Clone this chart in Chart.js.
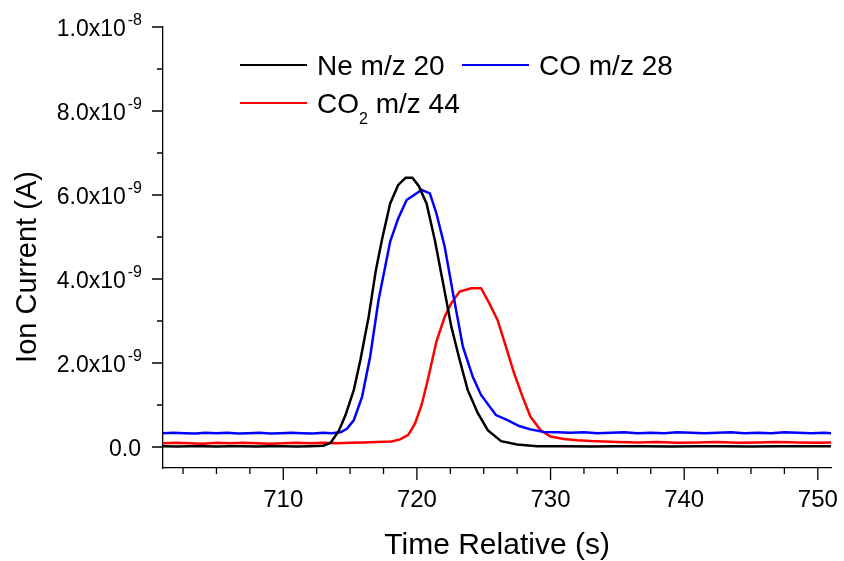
<!DOCTYPE html>
<html>
<head>
<meta charset="utf-8">
<script src="https://cdn.jsdelivr.net/npm/chart.js@4.4.0/dist/chart.umd.min.js"></script>
<style>
    html, body { margin: 0; padding: 0; background: #fff; }
    #wrap { width: 844px; height: 561px; }
</style>
</head>
<body>
<div id="wrap"><canvas id="chart" width="844" height="561"></canvas></div>
<script>
// --- DATA (ion current in units of 1e-9 A, time in s) ---
const neTime = [701, 702, 703, 704, 705, 706, 707, 708, 709, 710, 711, 712, 713,
    713.55, 714.16, 714.66, 715.28, 715.77, 716.39, 716.93, 717.38, 718.0, 718.6, 719.16, 719.66,
    720.15, 720.72, 721.34, 721.96, 722.58, 723.2, 723.8, 724.55, 725.3, 726.3, 727.5, 729,
    731, 733, 735, 737, 739, 741, 743, 745, 747, 749, 751];
const neCurrent = [0.02, 0.01, 0.02, 0.02, 0.01, 0.02, 0.02, 0.01, 0.02, 0.02, 0.01, 0.02, 0.03,
    0.10, 0.39, 0.76, 1.36, 2.07, 3.10, 4.21, 4.93, 5.80, 6.24, 6.41, 6.41,
    6.21, 5.80, 4.93, 3.90, 2.86, 2.07, 1.36, 0.81, 0.40, 0.14, 0.06, 0.02,
    0.02, 0.01, 0.02, 0.02, 0.01, 0.02, 0.02, 0.01, 0.02, 0.02, 0.02];

const coTime = [701, 701.8, 702.6, 703.4, 704.2, 705, 705.8, 706.6, 707.4, 708.2, 709, 709.8, 710.6, 711.4, 712.2, 713,
    713.6, 714.3, 714.78, 715.28, 715.9, 716.5, 717.13, 718.0, 718.6, 719.23, 720.35, 720.97, 721.46, 722.08,
    722.7, 723.44, 724.18, 724.8, 725.91, 726.78, 727.65, 728.5, 729.5,
    730.5, 731.5, 732.5, 733.5, 734.5, 735.5, 736.5, 737.5, 738.5, 739.5, 740.5, 741.5, 742.5, 743.5,
    744.5, 745.5, 746.5, 747.5, 748.5, 749.5, 750.5, 751];
const coCurrent = [0.33, 0.34, 0.33, 0.32, 0.34, 0.33, 0.34, 0.32, 0.33, 0.34, 0.32, 0.33, 0.34, 0.33, 0.32, 0.34,
    0.33, 0.35, 0.44, 0.64, 1.20, 2.15, 3.50, 4.89, 5.44, 5.88, 6.12, 6.04, 5.56, 4.77,
    3.66, 2.39, 1.67, 1.24, 0.76, 0.64, 0.50, 0.42, 0.36,
    0.35, 0.34, 0.35, 0.33, 0.34, 0.35, 0.33, 0.34, 0.33, 0.35, 0.34, 0.33, 0.34, 0.35,
    0.33, 0.34, 0.33, 0.35, 0.34, 0.33, 0.34, 0.33];

const co2Time = [701, 702, 703, 704, 705, 706, 707, 708, 709, 710, 711, 712, 713, 714, 715, 716, 717,
    718.1, 718.74, 719.36, 719.86, 720.35, 720.84, 721.46, 722.08, 722.57, 723.2, 724.06, 724.8,
    725.42, 726.04, 726.66, 727.28, 727.9, 728.5, 729.26, 730.0,
    731, 732, 733, 734, 735,
    736.5, 738, 739.5, 741, 742.5, 744, 745.5, 747, 748.5, 750, 751];
const co2Current = [0.09, 0.10, 0.09, 0.08, 0.10, 0.09, 0.10, 0.09, 0.08, 0.09, 0.10, 0.09, 0.10, 0.09, 0.10, 0.11, 0.12,
    0.13, 0.18, 0.29, 0.56, 1.00, 1.63, 2.51, 3.10, 3.42, 3.70, 3.78, 3.78,
    3.42, 3.02, 2.39, 1.75, 1.20, 0.72, 0.40, 0.25,
    0.19, 0.16, 0.14, 0.13, 0.12,
    0.11, 0.12, 0.10, 0.11, 0.12, 0.10, 0.11, 0.12, 0.11, 0.10, 0.11];

const xMajorTicks = [710, 720, 730, 740, 750];
const xMinorTicks = [702.5, 705, 707.5, 712.5, 715, 717.5, 722.5, 725, 727.5, 732.5, 735, 737.5, 742.5, 745, 747.5];
const yMajorTicks = [0, 2, 4, 6, 8, 10];
const yMinorTicks = [1, 3, 5, 7, 9];
const yTickMantissa = ['0.0', '2.0x10', '4.0x10', '6.0x10', '8.0x10', '1.0x10'];
const yTickExponent = ['', '-9', '-9', '-9', '-9', '-8'];

const FONT = "'Liberation Sans', Arial, sans-serif";

function toPoints(xs, ys) {
    return xs.map((t, i) => ({ x: t, y: ys[i] }));
}

// --- DRAWING EXTRAS: ticks, y labels with exponents, y title, legend ---
const decorations = {
    id: 'decorations',
    afterDraw(chart) {
        const { ctx, chartArea: a, scales: { x, y } } = chart;
        ctx.save();
        ctx.strokeStyle = '#000';
        ctx.lineWidth = 1.3;
        ctx.beginPath();
        xMajorTicks.forEach(v => {
            const px = x.getPixelForValue(v);
            ctx.moveTo(px, a.bottom); ctx.lineTo(px, a.bottom + 12);
        });
        xMinorTicks.forEach(v => {
            const px = x.getPixelForValue(v);
            ctx.moveTo(px, a.bottom); ctx.lineTo(px, a.bottom + 6);
        });
        yMajorTicks.forEach(v => {
            const py = y.getPixelForValue(v);
            ctx.moveTo(a.left, py); ctx.lineTo(a.left - 11, py);
        });
        yMinorTicks.forEach(v => {
            const py = y.getPixelForValue(v);
            ctx.moveTo(a.left, py); ctx.lineTo(a.left - 6, py);
        });
        ctx.stroke();

        // y tick labels
        ctx.fillStyle = '#000';
        ctx.textBaseline = 'alphabetic';
        ctx.textAlign = 'right';
        yMajorTicks.forEach((v, i) => {
            const py = y.getPixelForValue(v);
            const right = 142;
            ctx.font = '16px ' + FONT;
            const exp = yTickExponent[i];
            const ew = exp ? ctx.measureText(exp).width : 0;
            if (exp) ctx.fillText(exp, right, py - 2);
            ctx.font = '23px ' + FONT;
            ctx.fillText(yTickMantissa[i], exp ? right - ew - 2 : right - 1, py + 8.5);
        });

        // y title
        ctx.save();
        ctx.translate(28, 267);
        ctx.rotate(-Math.PI / 2);
        ctx.textAlign = 'center';
        ctx.textBaseline = 'middle';
        ctx.font = '29px ' + FONT;
        ctx.fillText('Ion Current (A)', 0, 0);
        ctx.restore();

        // legend
        ctx.lineWidth = 2.2;
        ctx.textAlign = 'left';
        ctx.textBaseline = 'alphabetic';
        const items = [
            { c: '#000000', x: 240, y: 65, parts: [['Ne m/z 20', 28, 0]] },
            { c: '#0000ff', x: 462, y: 65, parts: [['CO m/z 28', 28, 0]] },
            { c: '#ff0000', x: 240, y: 103, parts: [['CO', 28, 0], ['2', 16, 11], [' m/z 44', 28, 0]] }
        ];
        items.forEach(it => {
            ctx.strokeStyle = it.c;
            ctx.beginPath();
            ctx.moveTo(it.x, it.y); ctx.lineTo(it.x + 67, it.y);
            ctx.stroke();
            let tx = it.x + 77;
            it.parts.forEach(([txt, size, dy]) => {
                ctx.font = size + 'px ' + FONT;
                ctx.fillStyle = '#000';
                ctx.fillText(txt, tx, it.y + 10 + dy);
                tx += ctx.measureText(txt).width;
            });
        });
        ctx.restore();
    }
};

// --- CHART ---
const ctx = document.getElementById('chart').getContext('2d');
new Chart(ctx, {
    type: 'line',
    data: {
        datasets: [
            { label: 'Ne m/z 20', data: toPoints(neTime, neCurrent), borderColor: '#000000' },
            { label: 'CO m/z 28', data: toPoints(coTime, coCurrent), borderColor: '#0000ff' },
            { label: 'CO2 m/z 44', data: toPoints(co2Time, co2Current), borderColor: '#ff0000' }
        ].map(d => Object.assign(d, { borderWidth: 2.5, pointRadius: 0, tension: 0, fill: false }))
    },
    options: {
        responsive: false,
        animation: false,
        layout: { padding: { top: 27, right: 8, left: 0, bottom: 0 } },
        plugins: { legend: { display: false }, tooltip: { enabled: false } },
        scales: {
            x: {
                type: 'linear',
                min: 701,
                max: 751,
                afterBuildTicks: s => { s.ticks = xMajorTicks.map(v => ({ value: v })); },
                afterFit: s => { s.height = 93; },
                grid: { drawOnChartArea: false, drawTicks: true, tickLength: 12, tickColor: 'rgba(0,0,0,0)' },
                border: { display: true, color: '#000', width: 1.3 },
                ticks: { color: '#000', font: { family: FONT, size: 24 }, padding: 6, maxRotation: 0, autoSkip: false,
                    callback: v => String(v) },
                title: { display: true, text: 'Time Relative (s)', color: '#000',
                    font: { family: FONT, size: 30 }, padding: { top: 0, bottom: -3 } }
            },
            y: {
                type: 'linear',
                min: -0.5,
                max: 10,
                afterBuildTicks: s => { s.ticks = yMajorTicks.map(v => ({ value: v })); },
                afterFit: s => { s.width = 163; },
                grid: { drawOnChartArea: false, drawTicks: false },
                border: { display: true, color: '#000', width: 1.3 },
                ticks: { display: false }
            }
        }
    },
    plugins: [decorations]
});
</script>
</body>
</html>
